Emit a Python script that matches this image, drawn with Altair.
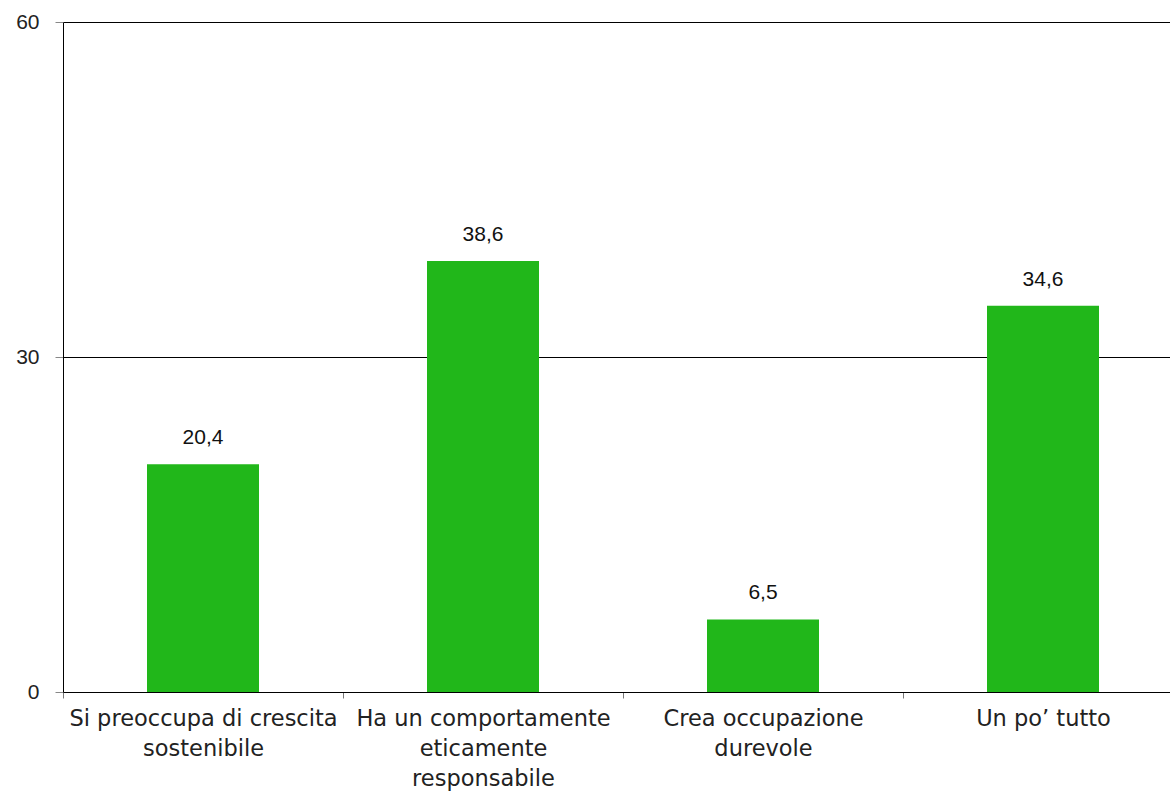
import altair as alt
import pandas as pd
import json

categories = [
    "Si preoccupa di crescita sostenibile",
    "Ha un comportamente eticamente responsabile",
    "Crea occupazione durevole",
    "Un po’ tutto",
]
values = [20.4, 38.6, 6.5, 34.6]
label_lines = {
    "Si preoccupa di crescita sostenibile": ["Si preoccupa di crescita", "sostenibile"],
    "Ha un comportamente eticamente responsabile": ["Ha un comportamente", "eticamente", "responsabile"],
    "Crea occupazione durevole": ["Crea occupazione", "durevole"],
    "Un po’ tutto": ["Un po’ tutto"],
}
y_ticks = [0, 30, 60]

df = pd.DataFrame({"cat": categories, "v": values})

label_expr = "".join(
    f"datum.value == {json.dumps(k)} ? {json.dumps(v)} : " for k, v in label_lines.items()
) + "datum.value"

xenc = alt.X(
    "cat:N",
    sort=categories,
    scale=alt.Scale(paddingInner=0, paddingOuter=0, range=[0, 1120]),
    axis=alt.Axis(
        title=None,
        labelAngle=0,
        labelExpr=label_expr,
        labelFont="DejaVu Sans",
        labelFontSize=22.5,
        labelColor="#222222",
        labelLineHeight=30,
        labelPadding=9,
        labelLimit=400,
        tickBand="extent",
        tickSize=6,
        tickColor="#777777",
        domainColor="#000000",
        grid=False,
    ),
)

yenc = alt.Y(
    "v:Q",
    scale=alt.Scale(domain=[0, 60], nice=False),
    axis=alt.Axis(
        title=None,
        values=y_ticks,
        labelFont="Liberation Sans",
        labelFontSize=21,
        labelColor="#222222",
        labelPadding=16,
        tickSize=8,
        tickColor="#888888",
        domainColor="#000000",
        gridColor="#000000",
        gridOpacity=1,
        gridWidth=1,
    ),
)

bars = alt.Chart(df).mark_bar(color="#21B71A", size=112).encode(
    x=xenc,
    y=yenc,
)

texts = alt.Chart(df).transform_calculate(
    lbl="replace(format(datum.v, '.1f'), '.', ',')"
).mark_text(
    font="Liberation Sans", fontSize=21, color="#111111", baseline="bottom", dy=-16
).encode(
    x=alt.X("cat:N", sort=categories),
    y=alt.Y("v:Q"),
    text="lbl:N",
)

chart = (
    alt.layer(bars, texts)
    .properties(
        width=1107,
        height=670,
        autosize=alt.AutoSizeParams(type="none"),
        padding={"left": 63, "top": 22, "right": 0, "bottom": 103},
        background="white",
    )
    .configure_view(stroke=None)
)

chart.save("out.html", embed_options={"renderer": "svg", "actions": False})
